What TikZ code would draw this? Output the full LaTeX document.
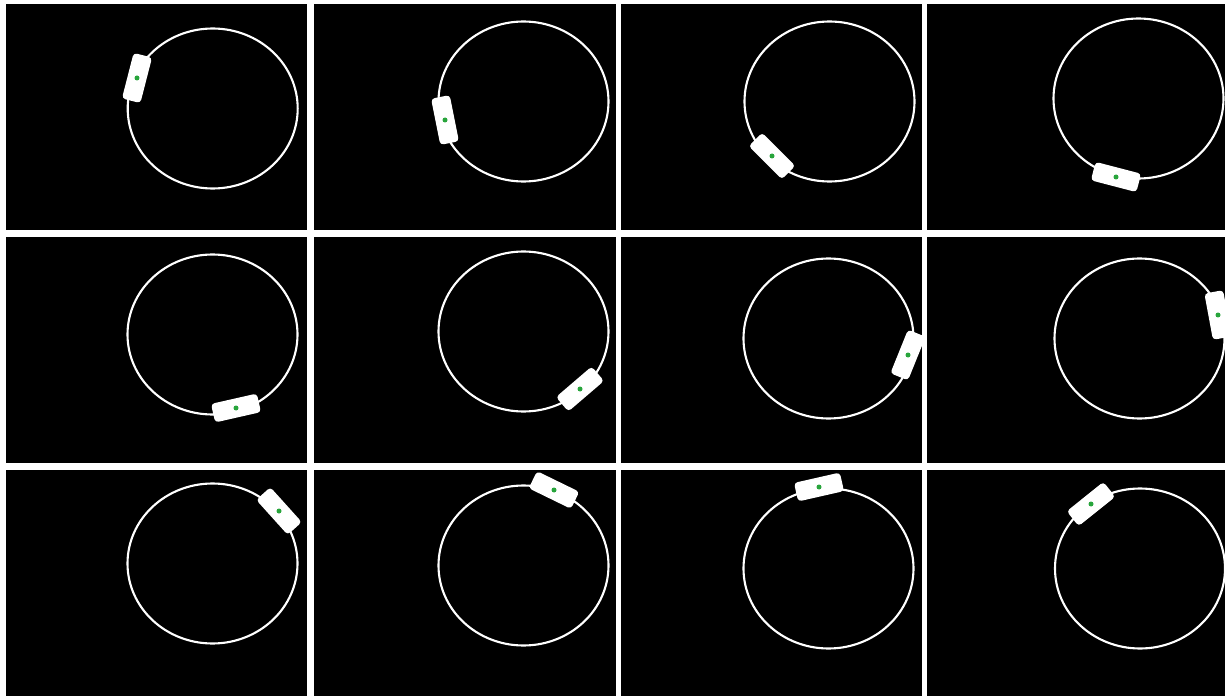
\documentclass[tikz,border=0pt]{standalone}
\usepackage{xcolor}
\definecolor{markGreen}{RGB}{40, 165, 60}
\usepackage{tikz}
\usetikzlibrary{positioning}

\begin{document}
\begin{tikzpicture}[x=0.02cm, y=-0.02cm,
  panel/.style={fill=black},
  track/.style={draw=white, line width=1.2pt},
  car/.style={rectangle, rounded corners=2pt, fill=white,
              minimum width=0.94cm, minimum height=0.38cm, inner sep=0pt},
  marker/.style={circle, fill=markGreen, minimum size=1mm, inner sep=0pt},
]
  \fill[white] (0,0) rectangle (1225,696);
  \useasboundingbox (0,0) rectangle (1225,696);

  % row 1
  \fill[panel] (6,4) rectangle (307,230);
  \draw[track] (212.7,108.5) ellipse [x radius=85, y radius=80];
  \node[car, rotate=75.6] (car1) at (137,78) {};
  \node[marker] (dot1) at (car1.center) {};

  \fill[panel] (314,4) rectangle (616,230);
  \draw[track] (523.5,101.5) ellipse [x radius=85, y radius=80];
  \node[car, rotate=101.3] (car2) at (445,120) {};
  \node[marker] (dot2) at (car2.center) {};

  \fill[panel] (621,4) rectangle (922,230);
  \draw[track] (829.5,101.5) ellipse [x radius=85, y radius=80];
  \node[car, rotate=135] (car3) at (772,156) {};
  \node[marker] (dot3) at (car3.center) {};

  \fill[panel] (927,4) rectangle (1225,230);
  \draw[track] (1138.5,98.5) ellipse [x radius=85, y radius=80];
  \node[car, rotate=165.4] (car4) at (1116,177) {};
  \node[marker] (dot4) at (car4.center) {};

  % row 2
  \fill[panel] (6,237) rectangle (307,463);
  \draw[track] (212.5,334.5) ellipse [x radius=85, y radius=80];
  \node[car, rotate=12.8] (car5) at (236,408) {};
  \node[marker] (dot5) at (car5.center) {};

  \fill[panel] (314,237) rectangle (616,463);
  \draw[track] (523.5,331.5) ellipse [x radius=85, y radius=80];
  \node[car, rotate=40.6] (car6) at (580,389) {};
  \node[marker] (dot6) at (car6.center) {};

  \fill[panel] (621,237) rectangle (922,463);
  \draw[track] (828.5,338.5) ellipse [x radius=85, y radius=80];
  \node[car, rotate=68] (car7) at (908,355) {};
  \node[marker] (dot7) at (car7.center) {};

  \fill[panel] (927,237) rectangle (1225,463);
  \begin{scope}
    \clip (927,237) rectangle (1225,463);
    \draw[track] (1139.5,338.5) ellipse [x radius=85, y radius=80];
    \node[car, rotate=100.5] (car8) at (1218,315) {};
    \node[marker] (dot8) at (car8.center) {};
  \end{scope}

  % row 3
  \fill[panel] (6,470) rectangle (307,696);
  \draw[track] (212.5,563.5) ellipse [x radius=85, y radius=80];
  \node[car, rotate=132] (car9) at (279,511) {};
  \node[marker] (dot9) at (car9.center) {};

  \fill[panel] (314,470) rectangle (616,696);
  \draw[track] (523.5,565.5) ellipse [x radius=85, y radius=80];
  \node[car, rotate=154] (car10) at (554,490) {};
  \node[marker] (dot10) at (car10.center) {};

  \fill[panel] (621,470) rectangle (922,696);
  \draw[track] (828.5,568.5) ellipse [x radius=85, y radius=80];
  \node[car, rotate=12.8] (car11) at (819,487) {};
  \node[marker] (dot11) at (car11.center) {};

  \fill[panel] (927,470) rectangle (1225,696);
  \draw[track] (1140,568.5) ellipse [x radius=85, y radius=80];
  \node[car, rotate=38.7] (car12) at (1091,504) {};
  \node[marker] (dot12) at (car12.center) {};
\end{tikzpicture}
\end{document}
